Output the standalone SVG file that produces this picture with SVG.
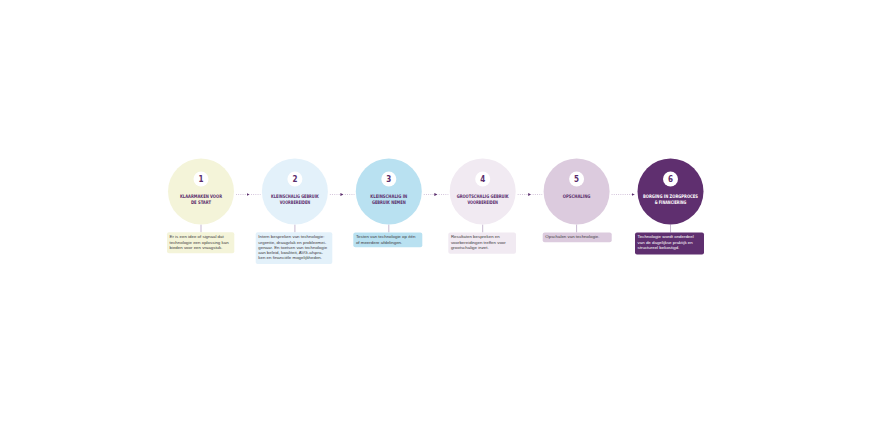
<svg xmlns="http://www.w3.org/2000/svg" width="870" height="424" viewBox="0 0 870 424">
<style>
.bg{fill:#ffffff}
.badge{fill:#ffffff}
.num{font-family:"Liberation Sans Narrow","DejaVu Sans Condensed","Liberation Sans",sans-serif;font-weight:bold;font-size:8px;fill:#5a2d6c;text-anchor:middle}
.title{font-family:"Liberation Sans Narrow","DejaVu Sans Condensed","Liberation Sans",sans-serif;font-weight:bold;font-size:4.9px;fill:#5a2d6c;text-anchor:middle}
.title.w{fill:#ffffff}
.desc{font-family:"Liberation Sans","Arial",sans-serif;font-size:4.4px;fill:#3e3a40}
.desc.w{fill:#ffffff}
.dots{stroke:#c9b7d3;stroke-width:0.9;stroke-dasharray:0.9 1.3;fill:none}
.stem{stroke:#b9a6c4;stroke-width:0.8}
.c1{fill:#f4f4d9}.c2{fill:#e3f1fa}.c3{fill:#b9e1f1}.c4{fill:#f1eaf2}.c5{fill:#dccbde}.c6{fill:#5f2f6f}
</style>
<defs>
<marker id="ah" viewBox="0 0 4 4" refX="4" refY="2" markerWidth="3" markerHeight="4" markerUnits="userSpaceOnUse" orient="auto">
<path d="M0,0 L4,2 L0,4 Z" fill="#5a2d6c"/>
</marker>
</defs>
<rect class="bg" x="0" y="0" width="870" height="424"/>

<g id="connectors">
<line class="dots" x1="236" y1="194.5" x2="249.5" y2="194.5" marker-end="url(#ah)"/>
<line class="dots" x1="251" y1="194.5" x2="260.5" y2="194.5"/>
<line class="dots" x1="329.9" y1="194.5" x2="343.4" y2="194.5" marker-end="url(#ah)"/>
<line class="dots" x1="344.9" y1="194.5" x2="354.4" y2="194.5"/>
<line class="dots" x1="423.8" y1="194.5" x2="437.3" y2="194.5" marker-end="url(#ah)"/>
<line class="dots" x1="438.8" y1="194.5" x2="448.3" y2="194.5"/>
<line class="dots" x1="517.7" y1="194.5" x2="531.2" y2="194.5" marker-end="url(#ah)"/>
<line class="dots" x1="532.7" y1="194.5" x2="542.2" y2="194.5"/>
<line class="dots" x1="611.6" y1="194.5" x2="634.5" y2="194.5" marker-end="url(#ah)"/>
<line class="stem" x1="201" y1="224.5" x2="201" y2="232.5"/>
<line class="stem" x1="294.9" y1="224.5" x2="294.9" y2="232.5"/>
<line class="stem" x1="388.8" y1="224.5" x2="388.8" y2="232.5"/>
<line class="stem" x1="482.7" y1="224.5" x2="482.7" y2="232.5"/>
<line class="stem" x1="576.6" y1="224.5" x2="576.6" y2="232.5"/>
<line class="stem" x1="670.5" y1="224.5" x2="670.5" y2="232.5"/>
</g>

<g id="step1">
<circle class="c1" cx="201" cy="191.5" r="33"/>
<circle class="badge" cx="201" cy="179" r="7.5"/>
<text class="num" x="201" y="182">1</text>
<text class="title" x="201" y="198.3" textLength="42" lengthAdjust="spacingAndGlyphs">KLAARMAKEN VOOR</text>
<text class="title" x="201" y="204.4" textLength="20" lengthAdjust="spacingAndGlyphs">DE START</text>
<rect class="c1" x="167" y="232.3" width="67.3" height="21" rx="2"/>
<text class="desc" x="169.5" y="238.2">Er is een idee of signaal dat</text>
<text class="desc" x="169.5" y="243.5">technologie een oplossing kan</text>
<text class="desc" x="169.5" y="248.8">bieden voor een vraagstuk.</text>
</g>

<g id="step2">
<circle class="c2" cx="294.9" cy="191.5" r="33"/>
<circle class="badge" cx="294.9" cy="179" r="7.5"/>
<text class="num" x="294.9" y="182">2</text>
<text class="title" x="294.9" y="198.3" textLength="47.6" lengthAdjust="spacingAndGlyphs">KLEINSCHALIG GEBRUIK</text>
<text class="title" x="294.9" y="204.4" textLength="30.5" lengthAdjust="spacingAndGlyphs">VOORBEREIDEN</text>
<rect class="c2" x="255.7" y="232.3" width="76.6" height="31.7" rx="2"/>
<text class="desc" x="258.3" y="238.2">Intern bespreken van technologie:</text>
<text class="desc" x="258.3" y="243.5">urgentie, draagvlak en probleemei-</text>
<text class="desc" x="258.3" y="248.8">genaar. En toetsen van technologie</text>
<text class="desc" x="258.3" y="254.1">aan beleid, kwaliteit, AVG-afspra-</text>
<text class="desc" x="258.3" y="259.4">ken en financiële mogelijkheden.</text>
</g>

<g id="step3">
<circle class="c3" cx="388.8" cy="191.5" r="33"/>
<circle class="badge" cx="388.8" cy="179" r="7.5"/>
<text class="num" x="388.8" y="182">3</text>
<text class="title" x="388.8" y="198.3" textLength="37" lengthAdjust="spacingAndGlyphs">KLEINSCHALIG IN</text>
<text class="title" x="388.8" y="204.4" textLength="33.7" lengthAdjust="spacingAndGlyphs">GEBRUIK NEMEN</text>
<rect class="c3" x="353.3" y="232.5" width="69" height="14.8" rx="2"/>
<text class="desc" x="355.9" y="238.2">Testen van technologie op één</text>
<text class="desc" x="355.9" y="243.5">of meerdere afdelingen.</text>
</g>

<g id="step4">
<circle class="c4" cx="482.7" cy="191.5" r="33"/>
<circle class="badge" cx="482.7" cy="179" r="7.5"/>
<text class="num" x="482.7" y="182">4</text>
<text class="title" x="482.7" y="198.3" textLength="52" lengthAdjust="spacingAndGlyphs">GROOTSCHALIG GEBRUIK</text>
<text class="title" x="482.7" y="204.4" textLength="30.5" lengthAdjust="spacingAndGlyphs">VOORBEREIDEN</text>
<rect class="c4" x="448.3" y="232.5" width="67.7" height="21.3" rx="2"/>
<text class="desc" x="450.9" y="238.2">Resultaten bespreken en</text>
<text class="desc" x="450.9" y="243.5">voorbereidingen treffen voor</text>
<text class="desc" x="450.9" y="248.8">grootschalige inzet.</text>
</g>

<g id="step5">
<circle class="c5" cx="576.6" cy="191.5" r="33"/>
<circle class="badge" cx="576.6" cy="179" r="7.5"/>
<text class="num" x="576.6" y="182">5</text>
<text class="title" x="576.6" y="198.3" textLength="27.7" lengthAdjust="spacingAndGlyphs">OPSCHALING</text>
<rect class="c5" x="542.7" y="232.5" width="69" height="9.8" rx="2"/>
<text class="desc" x="545.3" y="238.4">Opschalen van technologie.</text>
</g>

<g id="step6">
<circle class="c6" cx="670.5" cy="191.5" r="33"/>
<circle class="badge" cx="670.5" cy="179" r="7.5"/>
<text class="num" x="670.5" y="182">6</text>
<text class="title w" x="670.5" y="198.3" textLength="55" lengthAdjust="spacingAndGlyphs">BORGING IN ZORGPROCES</text>
<text class="title w" x="670.5" y="204.4" textLength="31.7" lengthAdjust="spacingAndGlyphs">&amp; FINANCIERING</text>
<rect class="c6" x="635" y="232.5" width="69" height="22" rx="2"/>
<text class="desc w" x="637.6" y="238.2">Technologie wordt onderdeel</text>
<text class="desc w" x="637.6" y="243.5">van de dagelijkse praktijk en</text>
<text class="desc w" x="637.6" y="248.8">structureel bekostigd.</text>
</g>
</svg>
